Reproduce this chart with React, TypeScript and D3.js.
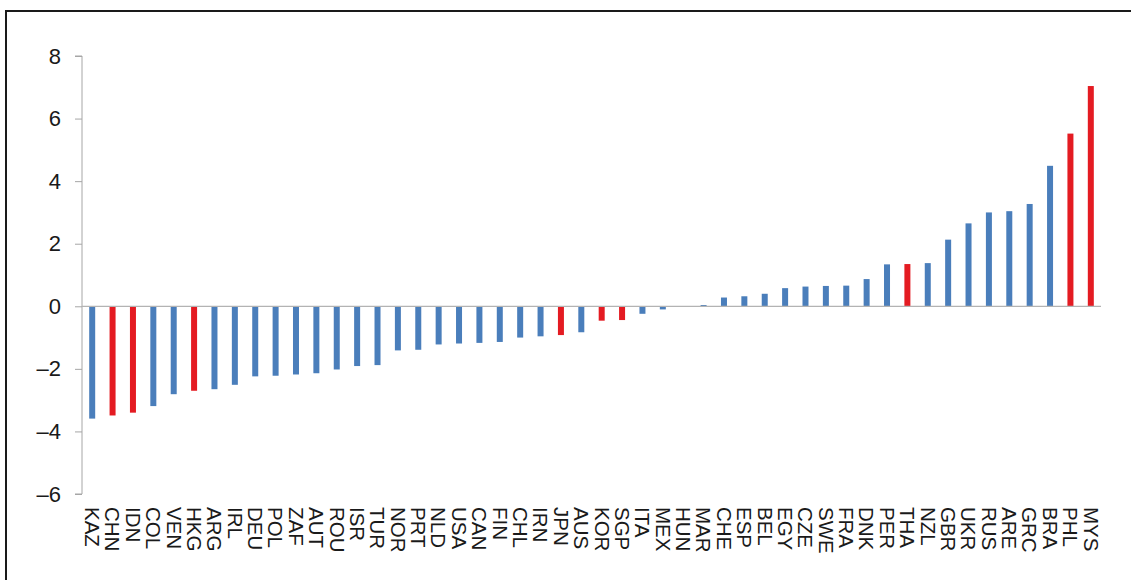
import { useEffect, useRef } from 'react';
import * as d3 from 'd3';

const countries = [
  'KAZ', 'CHN', 'IDN', 'COL', 'VEN', 'HKG', 'ARG', 'IRL', 'DEU', 'POL',
  'ZAF', 'AUT', 'ROU', 'ISR', 'TUR', 'NOR', 'PRT', 'NLD', 'USA', 'CAN',
  'FIN', 'CHL', 'IRN', 'JPN', 'AUS', 'KOR', 'SGP', 'ITA', 'MEX', 'HUN',
  'MAR', 'CHE', 'ESP', 'BEL', 'EGY', 'CZE', 'SWE', 'FRA', 'DNK', 'PER',
  'THA', 'NZL', 'GBR', 'UKR', 'RUS', 'ARE', 'GRC', 'BRA', 'PHL', 'MYS',
];

const values = [
  -3.59, -3.49, -3.4, -3.19, -2.81, -2.7, -2.65, -2.51, -2.24, -2.22,
  -2.18, -2.14, -2.02, -1.91, -1.88, -1.41, -1.39, -1.22, -1.19, -1.17,
  -1.14, -1.0, -0.96, -0.92, -0.83, -0.46, -0.44, -0.24, -0.1, 0,
  0.04, 0.28, 0.32, 0.4, 0.58, 0.63, 0.65, 0.66, 0.87, 1.34,
  1.35, 1.38, 2.13, 2.65, 3.0, 3.04, 3.27, 4.49, 5.52, 7.04,
];

// highlighted economies drawn in red
const highlighted = ['CHN', 'IDN', 'HKG', 'JPN', 'KOR', 'SGP', 'THA', 'PHL', 'MYS'];

const yTicks = [-6, -4, -2, 0, 2, 4, 6, 8];

const W = 1131;
const H = 580;

export default function App() {
  const svgRef = useRef<SVGSVGElement>(null);

  useEffect(() => {
    if (!svgRef.current) return;
    const svg = d3.select(svgRef.current);
    svg.selectAll('*').remove();

    const font = '"Liberation Sans", Arial, sans-serif';
    const left = 82;
    const right = 1101;

    // frame
    svg.append('rect')
      .attr('x', 6).attr('y', 11)
      .attr('width', W + 20).attr('height', H + 20)
      .attr('fill', 'white')
      .attr('stroke', '#1a1a1a')
      .attr('stroke-width', 2);

    const x = d3.scaleBand().domain(countries).range([left, right]).paddingInner(0).paddingOuter(0);
    const y = d3.scaleLinear().domain([-6, 8]).range([494, 56]);

    const data = countries.map((c, i) => ({ c, v: values[i] }));
    const bw = 6;

    // y axis
    const yAxis = svg.append('g')
      .attr('transform', `translate(${left},0)`)
      .call(
        d3.axisLeft(y)
          .tickValues(yTicks)
          .tickSize(7)
          .tickPadding(14)
          .tickFormat(d => (+d < 0 ? '\u2013' + Math.abs(+d) : String(d)))
      );
    yAxis.select('.domain').attr('stroke', '#a6a6a6').attr('d', `M-7,${y(8)}H0V${y(-6)}H-7`);
    yAxis.selectAll('.tick line').attr('stroke', '#a6a6a6');
    yAxis.selectAll('.tick text')
      .attr('fill', '#1a1a1a')
      .attr('font-family', font)
      .attr('font-size', 22);
    yAxis.attr('font-family', null);

    // bars
    svg.append('g')
      .selectAll('rect')
      .data(data)
      .enter()
      .append('rect')
      .attr('x', d => (x(d.c) ?? 0) + x.bandwidth() / 2 - bw / 2)
      .attr('y', d => y(Math.max(0, d.v)))
      .attr('width', bw)
      .attr('height', d => Math.abs(y(d.v) - y(0)))
      .attr('fill', d => (highlighted.includes(d.c) ? '#e41b22' : '#4a7ebb'));

    // zero line
    svg.append('line')
      .attr('x1', left).attr('x2', right)
      .attr('y1', y(0)).attr('y2', y(0))
      .attr('stroke', '#b3b3b3')
      .attr('stroke-width', 1.2);

    // category labels, rotated
    svg.append('g')
      .selectAll('text')
      .data(countries)
      .enter()
      .append('text')
      .attr('transform', d => `translate(${(x(d) ?? 0) + x.bandwidth() / 2},507) rotate(90)`)
      .attr('dy', '0.35em')
      .attr('font-family', font)
      .attr('font-size', 20.5)
      .attr('fill', '#1a1a1a')
      .text(d => d);
  }, []);

  return (
    <svg
      ref={svgRef}
      width={W}
      height={H}
      style={{ position: 'absolute', left: 0, top: 0, display: 'block' }}
    />
  );
}
